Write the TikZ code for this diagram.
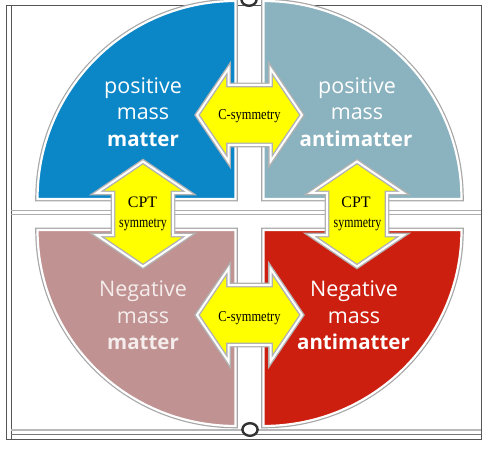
\documentclass[tikz,border=0pt]{standalone}
\usepackage{fontspec}
\setmainfont{Liberation Serif}
\newfontfamily\qfont{Open Sans}
\definecolor{qblue}{HTML}{0B86C7}
\definecolor{qteal}{HTML}{8AB2BF}
\definecolor{qrose}{HTML}{C09292}
\definecolor{qred}{HTML}{CD1F10}
\definecolor{qyel}{HTML}{FFFF00}
\definecolor{rosetext}{HTML}{F5ECEC}
\definecolor{framec}{HTML}{555555}
\tikzset{
  quad/.style={preaction={draw=gray!70,line width=4.6pt}, draw=white, line width=2.2pt, fill=#1},
  arrsty/.style={fill=qyel, draw=gray!60, line width=1.4pt, double=white, double distance=2pt, line join=miter},
  qreg/.style={font=\qfont\fontsize{21.5}{24}\selectfont, text=white, anchor=base, inner sep=0pt},
  qbold/.style={font=\qfont\bfseries\fontsize{20.5}{24}\selectfont, text=white, anchor=base, inner sep=0pt},
  symtxt/.style={font=\fontsize{13.5}{15}\selectfont, text=black, anchor=base, inner sep=0pt},
  dblarr/.pic={\path[arrsty] (-52.5,0) -- (-21,-46.5) -- (-21,-30) -- (21,-30) -- (21,-46.5) -- (52.5,0) -- (21,46.5) -- (21,30) -- (-21,30) -- (-21,46.5) -- cycle;}
}
\begin{document}
\begin{tikzpicture}[x=1pt,y=-1pt]
\useasboundingbox (0,0) rectangle (487,449);
\clip (0,0) rectangle (487,449);
% frame and rules
\draw[framec, line width=1pt] (6,6) rectangle (481,439);
\draw[framec, line width=1pt] (11,6) -- (11,439);
\draw[gray!55, line width=1.3pt] (11,430) -- (481,430);
\draw[framec!80, line width=1pt] (11,434) -- (481,434);
\draw[gray!65, line width=1pt] (11,211) -- (481,211) (11,214.5) -- (481,214.5);
% quadrants
\path[quad=qblue] (235.5,199) -- ++(-198,0) arc[start angle=180, end angle=270, x radius=198, y radius=198] -- cycle;
\path[quad=qteal] (263.5,199) -- ++(198,0) arc[start angle=0, end angle=-90, x radius=198, y radius=198] -- cycle;
\path[quad=qrose] (235.5,230) -- ++(-198,0) arc[start angle=180, end angle=90, x radius=198, y radius=196] -- cycle;
\path[quad=qred] (263.5,230) -- ++(198,0) arc[start angle=0, end angle=90, x radius=198, y radius=196] -- cycle;
% arrows
\pic at (249.5,115) {dblarr};
\pic at (249.5,315) {dblarr};
\pic[rotate=90] at (143,214) {dblarr};
\pic[rotate=90] at (357,214) {dblarr};
% quadrant texts
\node[qreg] (tl1) at (143,94) {positive};
\node[qreg] (tl2) at (143,120) {mass};
\node[qbold] (tl3) at (143,147) {matter};
\node[qreg] (tr1) at (357,94) {positive};
\node[qreg] (tr2) at (357,120) {mass};
\node[qbold] (tr3) at (356,147) {antimatter};
\node[qreg, text=rosetext] (bl1) at (143,296) {Negative};
\node[qreg, text=rosetext] (bl2) at (143,323) {mass};
\node[qbold, text=rosetext] (bl3) at (143,349) {matter};
\node[qreg] (br1) at (354,296) {Negative};
\node[qreg] (br2) at (354,323) {mass};
\node[qbold] (br3) at (353.5,349) {antimatter};
% arrow texts
\node[symtxt] (c1) at (249.5,119.5) {\scalebox{0.92}[1.12]{C-symmetry}};
\node[symtxt] (c2) at (249.5,321) {\scalebox{0.92}[1.12]{C-symmetry}};
\node[symtxt, font=\fontsize{16}{18}\selectfont] (p1) at (142.5,207.5) {CPT};
\node[symtxt] (s1) at (143,227) {\scalebox{0.88}[1.15]{symmetry}};
\node[symtxt, font=\fontsize{16}{18}\selectfont] (p2) at (356,207.5) {CPT};
\node[symtxt] (s2) at (357.5,227) {\scalebox{0.88}[1.15]{symmetry}};
% circles
\draw[line width=2.4pt, draw=black!80, fill=white] (250,429.5) ellipse [x radius=7.6, y radius=6.3];
\draw[line width=2.4pt, draw=black!80, fill=white] (249,-0.5) ellipse [x radius=7.6, y radius=6.3];
\end{tikzpicture}
\end{document}
